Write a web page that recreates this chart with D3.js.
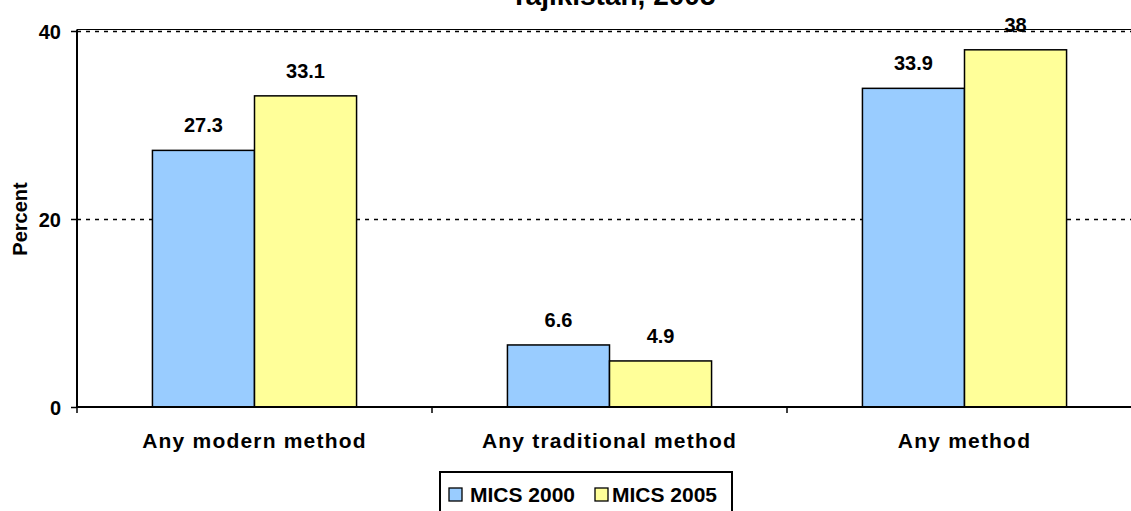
<!DOCTYPE html>
<html>
<head>
<meta charset="utf-8">
<script src="https://cdn.jsdelivr.net/npm/d3@7"></script>
<style>
  html, body { margin: 0; padding: 0; background: #fff; }
  svg { display: block; }
  text { font-family: "Liberation Sans", Arial, sans-serif; font-weight: bold; fill: #000; }
</style>
</head>
<body>
<svg id="chart" width="1131" height="511"></svg>
<script>
// Contraceptive use by method, two survey rounds
const categories = ["Any modern method", "Any traditional method", "Any method"];
const seriesNames = ["MICS 2000", "MICS 2005"];
const mics2000 = [27.3, 6.6, 33.9];
const mics2005 = [33.1, 4.9, 38];
const yTicks = [0, 20, 40];
const titleText = "Tajikistan, 2005";
const yTitle = "Percent";

const seriesValues = [mics2000, mics2005];
const colors = ["#99CCFF", "#FFFF99"];

const svg = d3.select("#chart");
const plot = { left: 77, right: 1142, top: 31, bottom: 407 };

const x0 = d3.scaleBand()
  .domain(categories)
  .range([plot.left, plot.right])
  .paddingInner(0.425)
  .paddingOuter(0.2125);

const x1 = d3.scaleBand()
  .domain(seriesNames)
  .range([0, x0.bandwidth()]);

const y = d3.scaleLinear()
  .domain([0, 40])
  .range([plot.bottom, plot.top]);

// Title (only the lower line sits inside the frame)
svg.append("text")
  .attr("x", 613)
  .attr("y", 5)
  .attr("text-anchor", "middle")
  .style("font-size", "28px")
  .text(titleText);

// Plot frame top edge
svg.append("line")
  .attr("x1", plot.left).attr("x2", plot.right)
  .attr("y1", plot.top - 1.5).attr("y2", plot.top - 1.5)
  .attr("stroke", "#000").attr("stroke-width", 1.2);

// Dotted gridlines
svg.append("g")
  .selectAll("line")
  .data(yTicks.filter(d => d > 0))
  .join("line")
  .attr("x1", plot.left).attr("x2", plot.right)
  .attr("y1", d => Math.round(y(d)) + 0.5).attr("y2", d => Math.round(y(d)) + 0.5)
  .attr("stroke", "#000")
  .attr("stroke-width", 1.3)
  .attr("stroke-dasharray", "4,5");

// Bars
const groups = svg.append("g")
  .selectAll("g")
  .data(categories)
  .join("g")
  .attr("transform", d => `translate(${x0(d)},0)`);

groups.selectAll("rect")
  .data((c, i) => seriesNames.map((s, k) => ({ s, v: seriesValues[k][i], k })))
  .join("rect")
  .attr("x", d => x1(d.s))
  .attr("width", x1.bandwidth())
  .attr("y", d => y(d.v))
  .attr("height", d => y(0) - y(d.v))
  .attr("fill", d => colors[d.k])
  .attr("stroke", "#000")
  .attr("stroke-width", 1.5);

groups.selectAll("text.val")
  .data((c, i) => seriesNames.map((s, k) => ({ s, v: seriesValues[k][i], k })))
  .join("text")
  .attr("class", "val")
  .attr("x", d => x1(d.s) + x1.bandwidth() / 2)
  .attr("y", d => y(d.v) - 18)
  .attr("text-anchor", "middle")
  .style("font-size", "20px")
  .text(d => d.v);

// Y axis
const yAxis = svg.append("g")
  .attr("transform", `translate(${plot.left},0)`)
  .call(d3.axisLeft(y).tickValues(yTicks).tickSize(6).tickPadding(10).tickFormat(d3.format("d")));
yAxis.select(".domain").attr("stroke", "#000").attr("stroke-width", 2)
  .attr("d", `M0,${plot.top - 1.5}V${plot.bottom}`);
yAxis.selectAll(".tick line").attr("stroke", "#000").attr("stroke-width", 1.5);
yAxis.selectAll(".tick text")
  .attr("dy", "0.36em")
  .style("font-size", "20px")
  .style("font-family", "'Liberation Sans', Arial, sans-serif")
  .style("font-weight", "bold");

// X axis with ticks at category boundaries
const xAxis = svg.append("g");
xAxis.append("line")
  .attr("x1", plot.left).attr("x2", plot.right)
  .attr("y1", plot.bottom).attr("y2", plot.bottom)
  .attr("stroke", "#000").attr("stroke-width", 2);
const boundaries = d3.range(categories.length + 1).map(i => plot.left + i * x0.step());
xAxis.selectAll("line.tick")
  .data(boundaries)
  .join("line")
  .attr("class", "tick")
  .attr("x1", d => d).attr("x2", d => d)
  .attr("y1", plot.bottom).attr("y2", plot.bottom + 6)
  .attr("stroke", "#000").attr("stroke-width", 1.5);
xAxis.selectAll("text")
  .data(categories)
  .join("text")
  .attr("x", d => x0(d) + x0.bandwidth() / 2)
  .attr("y", 448)
  .attr("text-anchor", "middle")
  .style("font-size", "21px")
  .style("letter-spacing", "1.2px")
  .text(d => d);

// Y axis title
svg.append("text")
  .attr("transform", `translate(27,${(plot.top + plot.bottom) / 2}) rotate(-90)`)
  .attr("text-anchor", "middle")
  .style("font-size", "20px")
  .text(yTitle);

// Legend
const legend = svg.append("g");
legend.append("rect")
  .attr("x", 440).attr("y", 472)
  .attr("width", 292).attr("height", 50)
  .attr("fill", "#fff")
  .attr("stroke", "#000").attr("stroke-width", 2);
const legendX = [449, 595];
const items = legend.selectAll("g")
  .data(seriesNames)
  .join("g")
  .attr("transform", (d, i) => `translate(${legendX[i]},488)`);
items.append("rect")
  .attr("width", 13).attr("height", 13)
  .attr("fill", (d, i) => colors[i])
  .attr("stroke", "#000").attr("stroke-width", 1.3);
items.append("text")
  .attr("x", (d, i) => i === 0 ? 21 : 17)
  .attr("y", 14)
  .style("font-size", "21px")
  .text(d => d);
</script>
</body>
</html>
